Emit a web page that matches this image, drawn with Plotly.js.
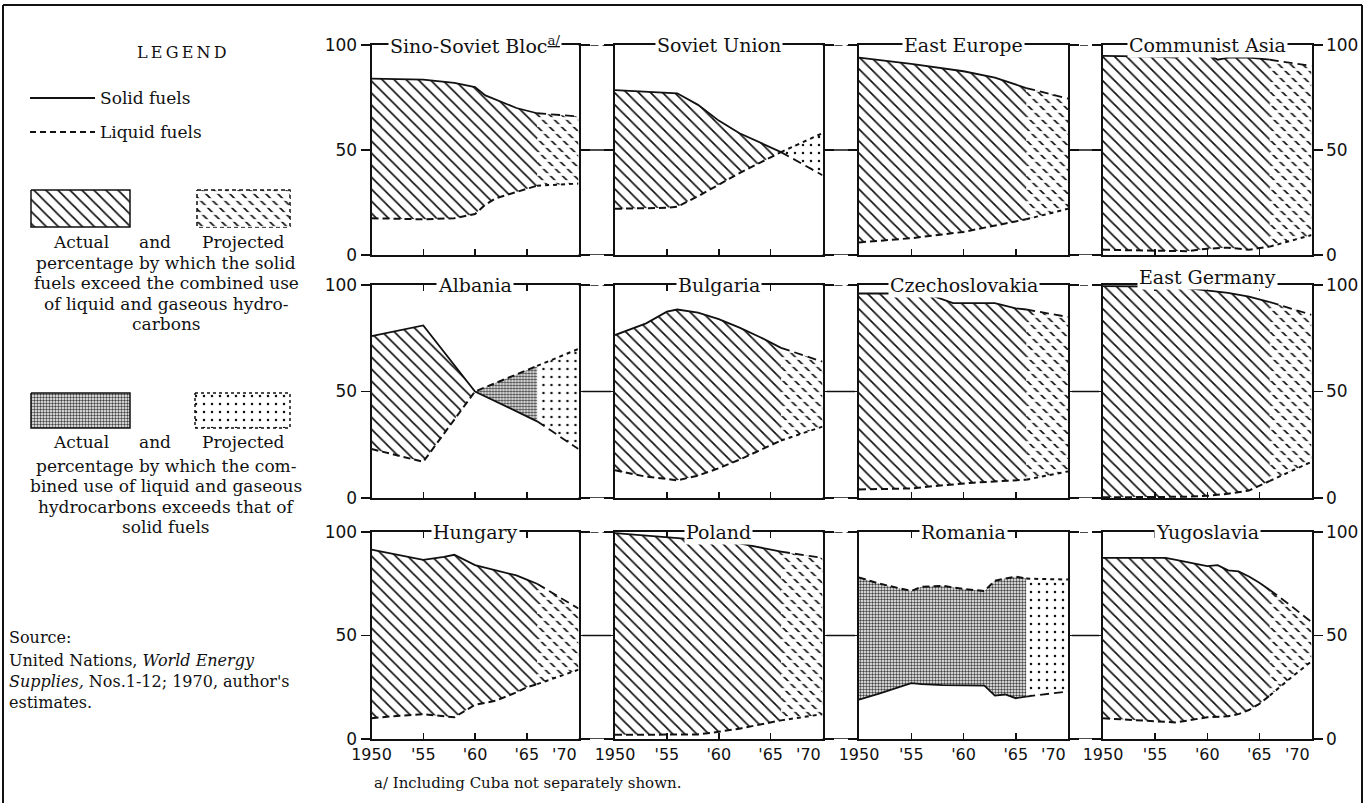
<!DOCTYPE html>
<html><head><meta charset="utf-8">
<script src="https://cdn.plot.ly/plotly-3.0.1.min.js"></script>
<style>html,body{margin:0;padding:0;background:#fff;}#chart{width:1365px;height:803px;}</style>
</head><body><div id="chart"></div>
<script>
// ---------------- DATA ----------------
const yearTicks = [1950, 1955, 1960, 1965, 1970];
const yearTickText = ['1950', "'55", "'60", "'65", "'70"];
const pctTicks = [0, 50, 100];
const projStart = 1966;

const sinoYears  = [1950, 1955, 1958, 1960, 1961, 1962, 1963, 1964, 1966, 1970];
const sinoSolid  = [84, 83.5, 82, 80, 76, 74, 72, 70, 67.5, 66];
const sinoLiquid = [17.5, 17, 17.5, 19.5, 24, 27, 28.5, 30, 33, 34];

const ussrYears  = [1950, 1955, 1956, 1958, 1960, 1962, 1964, 1966, 1970];
const ussrSolid  = [78.5, 77.5, 77, 71.5, 64, 58, 53.5, 49, 38];
const ussrLiquid = [22, 22.5, 23, 28, 33.5, 39, 44, 49, 58];

const eeYears  = [1950, 1955, 1960, 1963, 1966, 1970];
const eeSolid  = [94, 91, 87.5, 84.5, 79.5, 74.5];
const eeLiquid = [6, 8, 11, 14, 17, 22];

const asiaYears  = [1950, 1955, 1957, 1958, 1960, 1961, 1962, 1964, 1966, 1970];
const asiaSolid  = [94.8, 94.5, 94, 96, 96, 93, 94, 94, 93, 90];
const asiaLiquid = [2.5, 2, 2, 1.8, 3, 3.2, 3.5, 2.5, 4, 9.5];

const albYears  = [1950, 1955, 1960, 1966, 1970];
const albSolid  = [76, 81, 50, 36, 23];
const albLiquid = [23, 17, 50, 62, 70];

const bulYears  = [1950, 1953, 1955, 1956, 1958, 1960, 1962, 1964, 1966, 1970];
const bulSolid  = [76.5, 82, 87.5, 88.5, 87, 84, 80, 75.5, 70.5, 64];
const bulLiquid = [13, 10, 9, 8.3, 10.5, 14, 18, 22.5, 27, 33.5];

const czYears  = [1950, 1955, 1957, 1959, 1961, 1963, 1965, 1966, 1970];
const czSolid  = [96, 96, 95, 91.5, 91.5, 91.5, 89, 88.5, 85];
const czLiquid = [4, 4.5, 5.5, 6.5, 7.2, 7.8, 8.3, 8.6, 12.5];

const gdrYears  = [1950, 1955, 1958, 1960, 1962, 1964, 1966, 1970];
const gdrSolid  = [99.5, 99.3, 98.5, 97.5, 96.3, 94.5, 92, 86];
const gdrLiquid = [0.3, 0.3, 0.6, 1, 2, 3.5, 8, 17];

const hunYears  = [1950, 1952, 1955, 1957, 1958, 1960, 1962, 1964, 1965, 1966, 1970];
const hunSolid  = [91.5, 89.5, 86.5, 88, 89, 84, 81.5, 79, 77, 75, 63];
const hunLiquid = [10, 11, 12, 11, 10.5, 16.5, 18.5, 22.5, 25, 26.5, 33.5];

const polYears  = [1950, 1955, 1958, 1960, 1962, 1964, 1966, 1970];
const polSolid  = [99.5, 97.5, 96.5, 95.5, 94.5, 92.5, 90.5, 87.5];
const polLiquid = [2, 2, 2.2, 3.5, 5, 7, 9, 12];

const romYears  = [1950, 1952, 1955, 1956, 1958, 1960, 1962, 1963, 1964, 1965, 1966, 1970];
const romSolid  = [19, 22, 27, 26.5, 26, 25.8, 25.8, 21, 21.5, 19.7, 20.5, 23];
const romLiquid = [78, 75, 71.5, 73.5, 74, 72.5, 71.5, 76.5, 77.5, 78.5, 77.5, 77];

const yugYears  = [1950, 1956, 1957, 1960, 1961, 1962, 1963, 1964, 1965, 1966, 1968, 1970];
const yugSolid  = [87.5, 87.5, 86.5, 83.5, 84, 81.5, 81, 78.5, 75.5, 72, 64.5, 56.5];
const yugLiquid = [10, 8, 8, 10.5, 10.7, 11, 12, 14, 17, 21, 29.5, 37.5];

const panelNames = ['Sino-Soviet Bloc<sup><u>a/</u></sup>', 'Soviet Union', 'East Europe', 'Communist Asia',
  'Albania', 'Bulgaria', 'Czechoslovakia', 'East Germany',
  'Hungary', 'Poland', 'Romania', 'Yugoslavia'];

const panels = [
  [sinoYears, sinoSolid, sinoLiquid], [ussrYears, ussrSolid, ussrLiquid], [eeYears, eeSolid, eeLiquid], [asiaYears, asiaSolid, asiaLiquid],
  [albYears, albSolid, albLiquid], [bulYears, bulSolid, bulLiquid], [czYears, czSolid, czLiquid], [gdrYears, gdrSolid, gdrLiquid],
  [hunYears, hunSolid, hunLiquid], [polYears, polSolid, polLiquid], [romYears, romSolid, romLiquid], [yugYears, yugSolid, yugLiquid]
];

// ---------------- GEOMETRY / STYLE ----------------
const W = 1365, H = 803;
const colX = [[371.5, 578.5], [615, 822.5], [859, 1068], [1103, 1311.5]];
const rowY = [[45, 255], [285, 498], [532, 739]];
const titleShift = [0, 0, 0, 0, 0, 0, 0, 8, 0, 0, 0, 0];
const px = v => v / W;
const py = v => 1 - v / H;
const SERIF = 'DejaVu Serif, Liberation Serif, serif';
const SANS = 'DejaVu Sans, Liberation Sans, sans-serif';

const patterns = {
  AS: {shape: '\\', size: 8.5, solidity: 0.2, fgcolor: '#111', bgcolor: 'rgba(0,0,0,0)'},
  PS: {shape: '\\', size: 8.5, solidity: 0.2, fgcolor: '#111', bgcolor: 'rgba(0,0,0,0)'},
  AL: {shape: '.', size: 3, solidity: 0.5, fgcolor: '#444', bgcolor: 'rgba(0,0,0,0)'},
  PL: {shape: '.', size: 8, solidity: 0.08, fgcolor: '#111', bgcolor: 'rgba(0,0,0,0)'}
};
const dashCut = {shape: '-', size: 7, solidity: 0.38, fgcolor: 'white', bgcolor: 'rgba(0,0,0,0)'};

function segments(x, s, l) {
  const segs = [];
  let cur = null;
  for (let i = 0; i < x.length - 1; i++) {
    const p = x[i] >= projStart;
    const d = (s[i] - l[i]) + (s[i + 1] - l[i + 1]);
    const key = (p ? 'P' : 'A') + (d >= 0 ? 'S' : 'L');
    if (!cur || cur.key !== key) { cur = {key: key, i0: i, i1: i + 1}; segs.push(cur); }
    else cur.i1 = i + 1;
  }
  return segs;
}

const traces = [];
const layout = {
  width: W, height: H, margin: {l: 0, r: 0, t: 0, b: 0},
  paper_bgcolor: 'white', plot_bgcolor: 'rgba(0,0,0,0)',
  showlegend: false, annotations: [], shapes: []
};

function fillPair(xs, lo, hi, xr, yr, pat) {
  traces.push({x: xs, y: lo, xaxis: xr, yaxis: yr, mode: 'lines', line: {width: 0}, hoverinfo: 'skip', showlegend: false});
  traces.push({x: xs, y: hi, xaxis: xr, yaxis: yr, mode: 'lines', line: {width: 0}, fill: 'tonexty',
    fillcolor: 'rgba(0,0,0,0)', fillpattern: pat, hoverinfo: 'skip', showlegend: false});
}

const nT = yearTicks.length;
panels.forEach((pd, k) => {
  const [yrs, sol, liq] = pd;
  const n = k + 1;
  const row = Math.floor(k / 4), col = k % 4;
  const xr = n === 1 ? 'x' : 'x' + n, yr = n === 1 ? 'y' : 'y' + n;
  segments(yrs, sol, liq).forEach(sg => {
    const xs = yrs.slice(sg.i0, sg.i1 + 1), ss = sol.slice(sg.i0, sg.i1 + 1), ll = liq.slice(sg.i0, sg.i1 + 1);
    fillPair(xs, ss, ll, xr, yr, patterns[sg.key]);
    if (sg.key === 'PS') fillPair(xs, ss, ll, xr, yr, dashCut);
  });
  const ia = yrs.map((y, i) => i).filter(i => yrs[i] <= projStart);
  const ip = yrs.map((y, i) => i).filter(i => yrs[i] >= projStart);
  const pick = (arr, idx) => idx.map(i => arr[i]);
  traces.push({x: pick(yrs, ia), y: pick(sol, ia), xaxis: xr, yaxis: yr, mode: 'lines', line: {color: '#111', width: 1.8}, hoverinfo: 'skip'});
  traces.push({x: pick(yrs, ip), y: pick(sol, ip), xaxis: xr, yaxis: yr, mode: 'lines', line: {color: '#111', width: 1.8, dash: '9px,5px'}, hoverinfo: 'skip'});
  traces.push({x: pick(yrs, ia), y: pick(liq, ia), xaxis: xr, yaxis: yr, mode: 'lines', line: {color: '#111', width: 2, dash: '7px,4px'}, hoverinfo: 'skip'});
  traces.push({x: pick(yrs, ip), y: pick(liq, ip), xaxis: xr, yaxis: yr, mode: 'lines', line: {color: '#111', width: 2, dash: '4px,4px'}, hoverinfo: 'skip'});

  const xa = {
    domain: [px(colX[col][0]), px(colX[col][1])], range: [1950, 1970], anchor: yr,
    tickvals: yearTicks.slice(0, nT - 1), ticktext: yearTickText.slice(0, nT - 1), showticklabels: row === 2,
    ticks: 'inside', ticklen: 6, tickwidth: 1.5, tickcolor: '#111', mirror: 'ticks',
    showline: true, linecolor: '#111', linewidth: 2, showgrid: false, zeroline: false, fixedrange: true,
    tickfont: {family: SANS, size: 16, color: '#111'}
  };
  const ya = {
    domain: [py(rowY[row][1]), py(rowY[row][0])], range: [0, 100], anchor: xr,
    tickvals: pctTicks, showticklabels: col === 0 || col === 3, side: col === 3 ? 'right' : 'left',
    ticks: 'outside', ticklen: 9, tickwidth: 1.5, tickcolor: '#111', mirror: 'ticks',
    showline: true, linecolor: '#111', linewidth: 2, showgrid: false, zeroline: false, fixedrange: true,
    tickfont: {family: SANS, size: 17, color: '#111'}
  };
  layout[n === 1 ? 'xaxis' : 'xaxis' + n] = xa;
  layout[n === 1 ? 'yaxis' : 'yaxis' + n] = ya;
  layout.annotations.push({
    xref: 'paper', yref: 'paper', x: px((colX[col][0] + colX[col][1]) / 2), y: py(rowY[row][0] - titleShift[k]),
    xanchor: 'center', yanchor: 'middle', text: panelNames[k], showarrow: false,
    bgcolor: 'white', borderpad: 1, font: {family: SERIF, size: 19, color: '#111'}
  });
  // right-aligned last year label under bottom row
  if (row === 2) {
    layout.annotations.push({
      xref: xr, yref: 'paper', x: yearTicks[nT - 1], y: py(rowY[row][1]), yshift: -15,
      xanchor: 'right', yanchor: 'middle', text: yearTickText[nT - 1], showarrow: false,
      font: {family: SANS, size: 16, color: '#111'}
    });
  }
  // connector dashes in the gap to the next panel, at each percentage tick
  if (col < 3) {
    pctTicks.forEach(v => {
      const inset = v === 50 ? 4 : 0;
      layout.shapes.push({type: 'line', xref: 'paper', yref: yr,
        x0: px(colX[col][1] + inset), x1: px(colX[col + 1][0] - inset), y0: v, y1: v,
        line: {color: '#111', width: 1.5, dash: v === 100 ? '8px,4px' : 'solid'}});
    });
  }
});

// ---------------- LEGEND PANEL (overlay axes in pixel units) ----------------
layout.xaxis13 = {domain: [0, 1], range: [0, W], visible: false, fixedrange: true, anchor: 'y13'};
layout.yaxis13 = {domain: [0, 1], range: [H, 0], visible: false, fixedrange: true, anchor: 'x13'};
function box(x0, x1, y0, y1, pat, dash, extraCut) {
  const bx = [x0, x1, x1, x0, x0], by = [y0, y0, y1, y1, y0];
  traces.push({x: bx, y: by, xaxis: 'x13', yaxis: 'y13', mode: 'lines', fill: 'toself', fillcolor: 'rgba(0,0,0,0)',
    fillpattern: pat, line: {color: '#111', width: 1.5, dash: dash}, hoverinfo: 'skip'});
  if (extraCut) traces.push({x: bx, y: by, xaxis: 'x13', yaxis: 'y13', mode: 'lines', fill: 'toself', fillcolor: 'rgba(0,0,0,0)',
    fillpattern: dashCut, line: {width: 0}, hoverinfo: 'skip'});
}
box(31, 130, 190, 227, patterns.AS, 'solid', false);
box(197, 290, 190, 227, patterns.PS, '4px,3px', true);
box(31, 130, 393, 428, patterns.AL, 'solid', false);
box(195, 290, 393, 428, patterns.PL, '3px,3px', false);
traces.push({x: [30, 95], y: [98, 98], xaxis: 'x13', yaxis: 'y13', mode: 'lines', line: {color: '#111', width: 1.8}, hoverinfo: 'skip'});
traces.push({x: [30, 95], y: [132, 132], xaxis: 'x13', yaxis: 'y13', mode: 'lines', line: {color: '#111', width: 2, dash: '6px,4px'}, hoverinfo: 'skip'});

function txt(x, y, t, size, anchor, fam) {
  layout.annotations.push({xref: 'paper', yref: 'paper', x: px(x), y: py(y), xanchor: anchor || 'center', yanchor: 'middle',
    text: t, showarrow: false, font: {family: fam || SERIF, size: size, color: '#111'}});
}
txt(182, 52, 'L\u2009E\u2009G\u2009E\u2009N\u2009D', 16);
txt(98, 98, 'Solid fuels', 17, 'left');
txt(98, 132, 'Liquid fuels', 17, 'left');
txt(81, 242, 'Actual', 17); txt(155, 242, 'and', 17); txt(243, 242, 'Projected', 17);
['percentage by which the solid', 'fuels exceed the combined use', 'of liquid and gaseous hydro-', 'carbons']
  .forEach((t, i) => txt(166, 263 + i * 20.3, t, 17));
txt(81, 442, 'Actual', 17); txt(155, 442, 'and', 17); txt(243, 442, 'Projected', 17);
['percentage by which the com-', 'bined use of liquid and gaseous', 'hydrocarbons exceeds that of', 'solid fuels']
  .forEach((t, i) => txt(166, 466 + i * 20.3, t, 17));
txt(7, 637, 'Source:', 16, 'left');
txt(7, 660, 'United Nations, <i>World Energy</i>', 16, 'left');
txt(7, 681, '<i>Supplies,</i> Nos.1-12; 1970, author\'s', 16, 'left');
txt(7, 702, 'estimates.', 16, 'left');
txt(372, 783, 'a/ Including Cuba not separately shown.', 15, 'left');

// frame
layout.shapes.push({type: 'line', xref: 'paper', yref: 'paper', x0: px(3), x1: px(1362), y0: py(5), y1: py(5), line: {color: '#111', width: 2}});
layout.shapes.push({type: 'line', xref: 'paper', yref: 'paper', x0: px(3), x1: px(3), y0: py(5), y1: 0, line: {color: '#111', width: 2}});
layout.shapes.push({type: 'line', xref: 'paper', yref: 'paper', x0: px(1362), x1: px(1362), y0: py(5), y1: 0, line: {color: '#111', width: 2}});

Plotly.newPlot('chart', traces, layout, {staticPlot: true, displayModeBar: false});
</script></body></html>
